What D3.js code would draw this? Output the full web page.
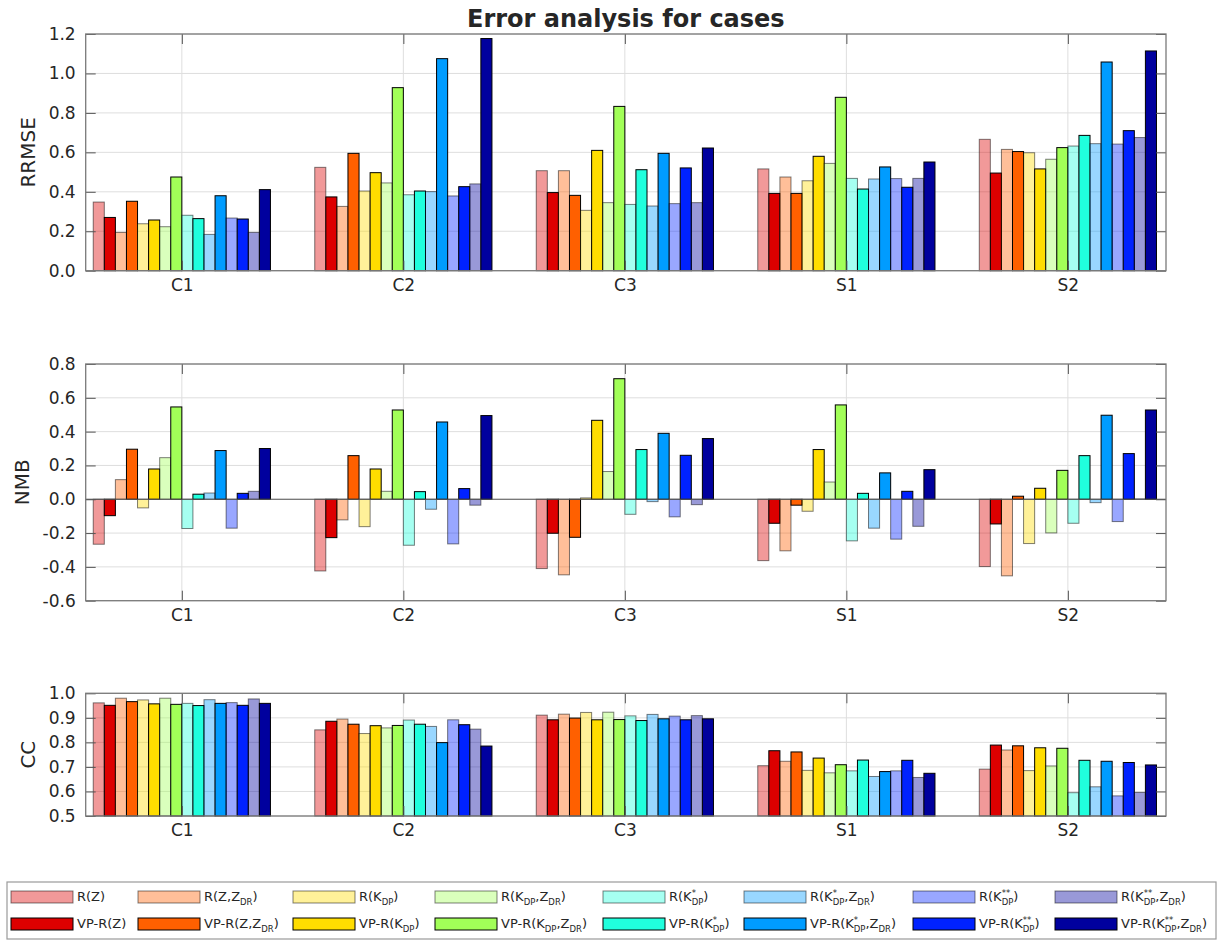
<!DOCTYPE html>
<html>
<head>
<meta charset="utf-8">
<script src="https://cdn.jsdelivr.net/npm/d3@7"></script>
<style>
  body { margin: 0; background: #fff; }
  text { font-family: "DejaVu Sans", sans-serif; fill: #262626; }
</style>
</head>
<body>
<svg id="chart" width="1224" height="943"></svg>
<script>
// ---- data ----
const cases = ["C1", "C2", "C3", "S1", "S2"];

// retrieval methods, in bar order (plain R / VP-R pairs)
const methods = [
  "R(Z)", "VP-R(Z)",
  "R(Z,Z_{DR})", "VP-R(Z,Z_{DR})",
  "R(K_{DP})", "VP-R(K_{DP})",
  "R(K_{DP},Z_{DR})", "VP-R(K_{DP},Z_{DR})",
  "R(K^{*}_{DP})", "VP-R(K^{*}_{DP})",
  "R(K^{*}_{DP},Z_{DR})", "VP-R(K^{*}_{DP},Z_{DR})",
  "R(K^{**}_{DP})", "VP-R(K^{**}_{DP})",
  "R(K^{**}_{DP},Z_{DR})", "VP-R(K^{**}_{DP},Z_{DR})"
];

// one colour per method pair; the plain R bar uses it at reduced opacity
const pairColors = ["#dd0000", "#ff6000", "#ffdd00", "#a2ff58",
                    "#20ffdd", "#009cff", "#0022ff", "#00009e"];

// rows = cases, columns = methods
const rrmse = [
  [0.348, 0.270, 0.194, 0.352, 0.238, 0.257, 0.223, 0.475, 0.281, 0.264, 0.184, 0.380, 0.267, 0.262, 0.194, 0.411],
  [0.524, 0.374, 0.326, 0.595, 0.404, 0.497, 0.445, 0.928, 0.385, 0.404, 0.401, 1.075, 0.379, 0.426, 0.440, 1.177],
  [0.507, 0.396, 0.507, 0.382, 0.306, 0.610, 0.345, 0.833, 0.336, 0.512, 0.328, 0.595, 0.340, 0.521, 0.345, 0.622],
  [0.516, 0.392, 0.475, 0.392, 0.456, 0.580, 0.544, 0.879, 0.468, 0.414, 0.465, 0.526, 0.467, 0.423, 0.468, 0.551],
  [0.666, 0.495, 0.615, 0.604, 0.598, 0.516, 0.565, 0.624, 0.632, 0.686, 0.644, 1.058, 0.642, 0.710, 0.675, 1.114]
];
const nmb = [
  [-0.266, -0.097, 0.116, 0.296, -0.051, 0.179, 0.246, 0.546, -0.173, 0.030, 0.037, 0.288, -0.171, 0.035, 0.047, 0.300],
  [-0.424, -0.227, -0.122, 0.258, -0.162, 0.179, 0.047, 0.528, -0.272, 0.045, -0.059, 0.457, -0.264, 0.063, -0.035, 0.495],
  [-0.410, -0.201, -0.447, -0.225, 0.008, 0.467, 0.164, 0.713, -0.089, 0.294, -0.014, 0.390, -0.104, 0.260, -0.032, 0.359],
  [-0.363, -0.142, -0.305, -0.035, -0.071, 0.294, 0.102, 0.558, -0.246, 0.035, -0.171, 0.156, -0.236, 0.047, -0.160, 0.175],
  [-0.398, -0.146, -0.453, 0.018, -0.262, 0.065, -0.199, 0.171, -0.142, 0.258, -0.020, 0.497, -0.132, 0.270, 0.002, 0.528]
];
const cc = [
  [0.961, 0.951, 0.980, 0.966, 0.973, 0.957, 0.980, 0.955, 0.959, 0.950, 0.974, 0.959, 0.962, 0.951, 0.977, 0.959],
  [0.851, 0.886, 0.895, 0.874, 0.836, 0.868, 0.859, 0.869, 0.891, 0.874, 0.865, 0.799, 0.892, 0.872, 0.854, 0.785],
  [0.911, 0.892, 0.915, 0.899, 0.922, 0.892, 0.923, 0.893, 0.908, 0.889, 0.914, 0.896, 0.907, 0.892, 0.909, 0.896],
  [0.705, 0.766, 0.723, 0.761, 0.686, 0.736, 0.676, 0.709, 0.684, 0.728, 0.661, 0.681, 0.684, 0.727, 0.657, 0.674],
  [0.691, 0.789, 0.769, 0.786, 0.685, 0.778, 0.704, 0.776, 0.595, 0.727, 0.619, 0.723, 0.582, 0.718, 0.596, 0.708]
];

const rrmseTicks = [0, 0.2, 0.4, 0.6, 0.8, 1.0, 1.2];
const nmbTicks = [-0.6, -0.4, -0.2, 0, 0.2, 0.4, 0.6, 0.8];
const ccTicks = [0.5, 0.6, 0.7, 0.8, 0.9, 1.0];

// ---- layout ----
const svg = d3.select("#chart");
const plotLeft = 85.7, plotRight = 1166;
const x = d3.scaleLinear().domain([0.566, 5.443]).range([plotLeft, plotRight]);
const groupWidth = 0.8;
const barWidth = groupWidth / methods.length;
const caseIdx = cases.map((_, i) => i + 1);

const colorOf = j => pairColors[Math.floor(j / 2)];
const isPlain = j => j % 2 === 0;

function drawPanel(values, ticks, top, bottom, label, labelX) {
  const y = d3.scaleLinear().domain([ticks[0], ticks[ticks.length - 1]]).range([bottom, top]);
  const g = svg.append("g");

  // grid
  g.append("g").selectAll("line").data(ticks).join("line")
    .attr("x1", plotLeft).attr("x2", plotRight)
    .attr("y1", d => y(d)).attr("y2", d => y(d))
    .attr("stroke", "#dedede").attr("stroke-width", 1);
  g.append("g").selectAll("line").data(caseIdx).join("line")
    .attr("x1", d => x(d)).attr("x2", d => x(d))
    .attr("y1", top).attr("y2", bottom)
    .attr("stroke", "#dedede").attr("stroke-width", 1);

  // bars
  const base = y(Math.max(0, ticks[0]));
  const flat = [];
  values.forEach((row, i) => row.forEach((v, j) => flat.push({ c: i + 1, j, v })));
  g.append("g").selectAll("rect").data(flat).join("rect")
    .attr("x", d => x(d.c - groupWidth / 2 + d.j * barWidth))
    .attr("width", d => x(d.c - groupWidth / 2 + (d.j + 1) * barWidth) - x(d.c - groupWidth / 2 + d.j * barWidth))
    .attr("y", d => Math.min(y(d.v), base))
    .attr("height", d => Math.abs(base - y(d.v)))
    .attr("fill", d => colorOf(d.j))
    .attr("fill-opacity", d => isPlain(d.j) ? 0.4 : 1)
    .attr("stroke", "#000")
    .attr("stroke-opacity", d => isPlain(d.j) ? 0.5 : 1)
    .attr("stroke-width", 1);

  // zero baseline when the range spans zero
  if (ticks[0] < 0) {
    g.append("line").attr("x1", plotLeft).attr("x2", plotRight)
      .attr("y1", y(0)).attr("y2", y(0))
      .attr("stroke", "#555").attr("stroke-width", 1);
  }

  const fmt = v => v.toFixed(1);
  const styleAxis = a => {
    a.select(".domain").remove();
    a.selectAll(".tick line").attr("stroke", "#555").attr("stroke-width", 1);
    a.selectAll(".tick text").attr("fill", "#262626")
      .style("font-family", '"DejaVu Sans", sans-serif').style("font-size", "17px");
  };

  g.append("g").attr("transform", `translate(${plotLeft},0)`)
    .call(d3.axisLeft(y).tickValues(ticks).tickFormat(fmt).tickSizeInner(-10).tickSizeOuter(0).tickPadding(10))
    .call(styleAxis);
  g.append("g").attr("transform", `translate(${plotRight},0)`)
    .call(d3.axisRight(y).tickValues(ticks).tickFormat(() => "").tickSizeInner(-10).tickSizeOuter(0))
    .call(styleAxis);
  g.append("g").attr("transform", `translate(0,${bottom})`)
    .call(d3.axisBottom(x).tickValues(caseIdx).tickFormat(i => cases[i - 1]).tickSizeInner(-10).tickSizeOuter(0).tickPadding(8))
    .call(styleAxis);
  g.append("g").attr("transform", `translate(0,${top})`)
    .call(d3.axisTop(x).tickValues(caseIdx).tickFormat(() => "").tickSizeInner(-10).tickSizeOuter(0))
    .call(styleAxis);

  // frame
  g.append("rect").attr("x", plotLeft).attr("y", top)
    .attr("width", plotRight - plotLeft).attr("height", bottom - top)
    .attr("fill", "none").attr("stroke", "#7a7a7a").attr("stroke-width", 1.3);

  // y label
  g.append("text")
    .attr("transform", `translate(${labelX},${(top + bottom) / 2}) rotate(-90)`)
    .attr("text-anchor", "middle").attr("dy", "0.36em")
    .style("font-size", "20px").text(label);
}

svg.append("text").attr("x", (plotLeft + plotRight) / 2).attr("y", 27)
  .attr("text-anchor", "middle").style("font-size", "24px").style("font-weight", "bold")
  .attr("fill", "#000").text("Error analysis for cases");

drawPanel(rrmse, rrmseTicks, 34, 270.7, "RRMSE", 27.5);
drawPanel(nmb, nmbTicks, 364, 600.7, "NMB", 21.5);
drawPanel(cc, ccTicks, 693.3, 816, "CC", 27.5);

// ---- legend ----
const legend = svg.append("g");
legend.append("rect").attr("x", 7).attr("y", 882).attr("width", 1209).attr("height", 57)
  .attr("fill", "#fff").attr("stroke", "#9a9a9a").attr("stroke-width", 1.2);

const colX = [11, 138, 293, 435, 603, 744, 913, 1055];
const rowY = [897, 924];
const swW = 62, swH = 12;

// render a label with _{...} subscripts and ^{...} superscripts (stacked when paired)
function richText(parent, str, x0, yBase) {
  const t = parent.append("text").attr("x", x0).attr("y", yBase).style("font-size", "13px");
  const re = /\^\{([^}]*)\}_\{([^}]*)\}|_\{([^}]*)\}|([^_^]+)/g;
  let m, shifted = false, count = 0;
  const sups = [];
  while ((m = re.exec(str)) !== null) {
    if (m[4] !== undefined) {
      t.append("tspan").attr("dy", shifted ? -4 : 0).style("font-size", "13px").text(m[4]);
      shifted = false; count += m[4].length;
    } else {
      const sub = m[2] !== undefined ? m[2] : m[3];
      if (m[1] !== undefined) sups.push({ idx: count, s: m[1] });
      t.append("tspan").attr("dy", shifted ? 0 : 4).style("font-size", "8.5px").text(sub);
      shifted = true; count += sub.length;
    }
  }
  sups.forEach(s => {
    const p = t.node().getStartPositionOfChar(s.idx);
    parent.append("text").attr("x", p.x).attr("y", yBase - 5).style("font-size", "8.5px").text(s.s);
  });
}

methods.forEach((name, j) => {
  const col = Math.floor(j / 2), row = j % 2;
  const cx = colX[col], cy = rowY[row];
  legend.append("rect").attr("x", cx).attr("y", cy - swH / 2).attr("width", swW).attr("height", swH)
    .attr("fill", colorOf(j)).attr("fill-opacity", isPlain(j) ? 0.4 : 1)
    .attr("stroke", "#000").attr("stroke-opacity", isPlain(j) ? 0.5 : 1).attr("stroke-width", 1);
  richText(legend, name, cx + swW + 4, cy + 4);
});
</script>
</body>
</html>
